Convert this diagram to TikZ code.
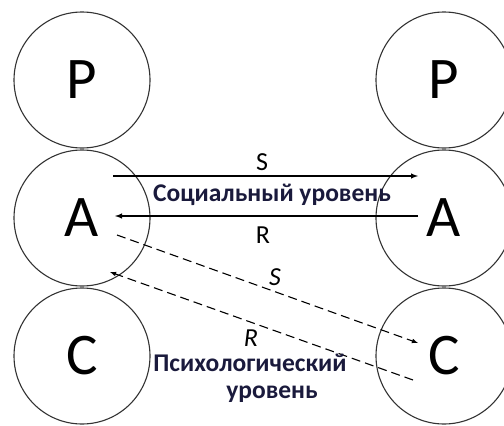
\documentclass[tikz,border=0pt]{standalone}
\usepackage{fontspec}
\setmainfont{Carlito}
\usetikzlibrary{arrows}
\definecolor{mytext}{HTML}{1A1A3C}
\definecolor{mycircle}{HTML}{333333}

\begin{document}
\begin{tikzpicture}[x=1pt,y=-1pt,>=latex]
\useasboundingbox (0,0) rectangle (504,426);

\foreach \name/\x/\y/\lab in {lp/82/80/P, la/82/218/A, lc/82/356/C,
                              rp/444/80/P, ra/444/218/A, rc/444/356/C}
    \node[circle,draw=mycircle,line width=1.1pt,minimum size=136pt,inner sep=0pt,
          font=\fontsize{59}{59}\selectfont] (\name) at (\x,\y) {\lab};

\coordinate (s1)  at (113,176);
\coordinate (s2)  at (418,176);
\coordinate (r1)  at (418,216);
\coordinate (r2)  at (115,216);
\coordinate (ds1) at (117,235);
\coordinate (ds2) at (418,343);
\coordinate (dr1) at (413,380);
\coordinate (dr2) at (110,272);

\draw[->,line width=1.4pt] (s1) -- (s2);
\draw[->,line width=1.4pt] (r1) -- (r2);
\draw[->,line width=1.1pt,dash pattern=on 9pt off 5pt] (ds1) -- (ds2);
\draw[->,line width=1.1pt,dash pattern=on 9pt off 5pt] (dr1) -- (dr2);

\node[font=\fontsize{26}{26}\selectfont] (slab) at (262,162) {S};
\node[font=\fontsize{26}{26}\selectfont] (rlab) at (263,235) {R};
\node[font=\fontsize{26}{26}\selectfont\itshape] (dslab) at (275,277) {S};
\node[font=\fontsize{26}{26}\selectfont\itshape,inner sep=0pt] (drlab) at (251,338) {R};

\node[font=\fontsize{25.5}{25.5}\selectfont\bfseries,text=mytext] (social) at (272,195)
    {Социальный уровень};
\node[font=\fontsize{25.5}{25.5}\selectfont\bfseries,text=mytext,inner sep=0pt] (psy1) at (250,363)
    {Психологический};
\node[font=\fontsize{25.5}{25.5}\selectfont\bfseries,text=mytext,inner sep=0pt] (psy2) at (272,394)
    {уровень};
\end{tikzpicture}
\end{document}
